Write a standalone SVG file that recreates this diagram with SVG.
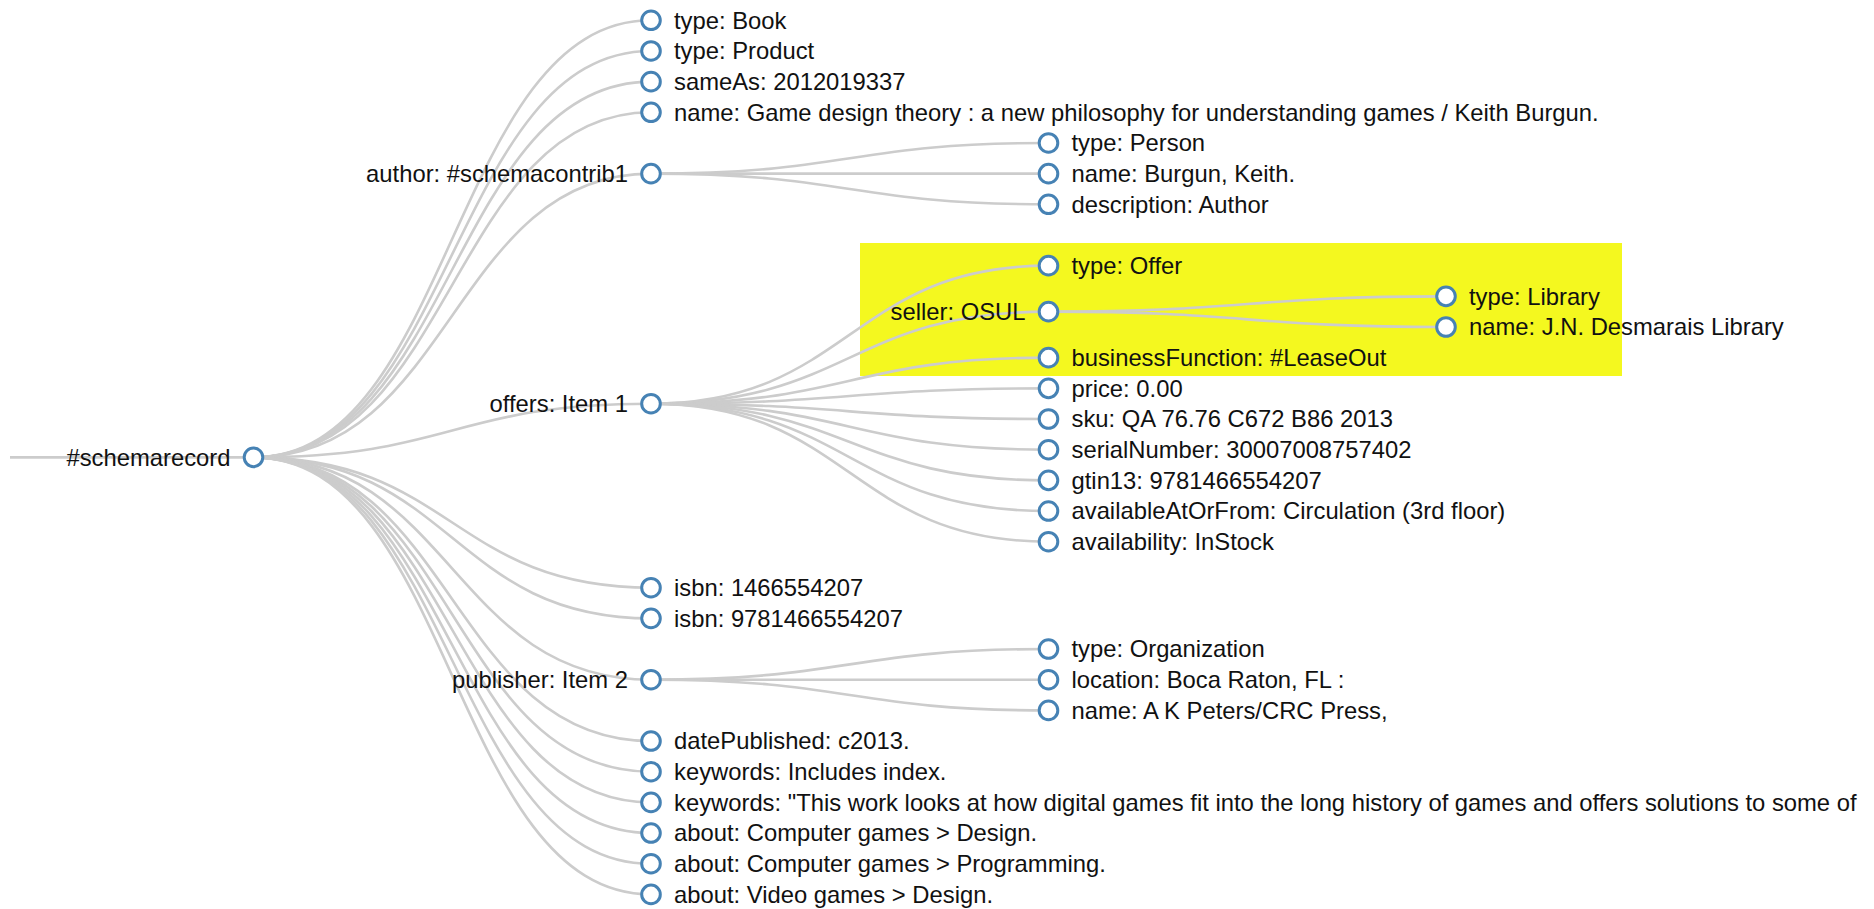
<svg xmlns="http://www.w3.org/2000/svg" width="1874" height="909" viewBox="0 0 1874 909">
<style>
.link{fill:none;stroke:#cccccc;stroke-width:2.6}
.node circle{fill:#ffffff;stroke:#4682b4;stroke-width:3}
.node text{font-family:"Liberation Sans",Arial,sans-serif;font-size:23.8px;fill:#111}
.l text{text-anchor:start}
.p text{text-anchor:end}
</style>
<rect id="highlight" x="860" y="243" width="762" height="133" fill="#f4f81f"/>
<g id="links">
<path class="link" d="M10,457.35 L253.5,457.35"/>
<path class="link" d="M253.5,457.35 C452.25,457.35 452.25,20.3 651,20.3"/>
<path class="link" d="M253.5,457.35 C452.25,457.35 452.25,50.97 651,50.97"/>
<path class="link" d="M253.5,457.35 C452.25,457.35 452.25,81.64 651,81.64"/>
<path class="link" d="M253.5,457.35 C452.25,457.35 452.25,112.31 651,112.31"/>
<path class="link" d="M253.5,457.35 C452.25,457.35 452.25,173.65 651,173.65"/>
<path class="link" d="M253.5,457.35 C452.25,457.35 452.25,403.68 651,403.68"/>
<path class="link" d="M253.5,457.35 C452.25,457.35 452.25,587.7 651,587.7"/>
<path class="link" d="M253.5,457.35 C452.25,457.35 452.25,618.37 651,618.37"/>
<path class="link" d="M253.5,457.35 C452.25,457.35 452.25,679.71 651,679.71"/>
<path class="link" d="M253.5,457.35 C452.25,457.35 452.25,741.05 651,741.05"/>
<path class="link" d="M253.5,457.35 C452.25,457.35 452.25,771.72 651,771.72"/>
<path class="link" d="M253.5,457.35 C452.25,457.35 452.25,802.39 651,802.39"/>
<path class="link" d="M253.5,457.35 C452.25,457.35 452.25,833.06 651,833.06"/>
<path class="link" d="M253.5,457.35 C452.25,457.35 452.25,863.73 651,863.73"/>
<path class="link" d="M253.5,457.35 C452.25,457.35 452.25,894.4 651,894.4"/>
<path class="link" d="M651,173.65 C849.75,173.65 849.75,142.98 1048.5,142.98"/>
<path class="link" d="M651,173.65 C849.75,173.65 849.75,173.65 1048.5,173.65"/>
<path class="link" d="M651,173.65 C849.75,173.65 849.75,204.32 1048.5,204.32"/>
<path class="link" d="M651,403.68 C849.75,403.68 849.75,265.66 1048.5,265.66"/>
<path class="link" d="M651,403.68 C849.75,403.68 849.75,311.67 1048.5,311.67"/>
<path class="link" d="M651,403.68 C849.75,403.68 849.75,357.67 1048.5,357.67"/>
<path class="link" d="M651,403.68 C849.75,403.68 849.75,388.34 1048.5,388.34"/>
<path class="link" d="M651,403.68 C849.75,403.68 849.75,419.01 1048.5,419.01"/>
<path class="link" d="M651,403.68 C849.75,403.68 849.75,449.68 1048.5,449.68"/>
<path class="link" d="M651,403.68 C849.75,403.68 849.75,480.35 1048.5,480.35"/>
<path class="link" d="M651,403.68 C849.75,403.68 849.75,511.02 1048.5,511.02"/>
<path class="link" d="M651,403.68 C849.75,403.68 849.75,541.69 1048.5,541.69"/>
<path class="link" d="M651,679.71 C849.75,679.71 849.75,649.04 1048.5,649.04"/>
<path class="link" d="M651,679.71 C849.75,679.71 849.75,679.71 1048.5,679.71"/>
<path class="link" d="M651,679.71 C849.75,679.71 849.75,710.38 1048.5,710.38"/>
<path class="link" d="M1048.5,311.67 C1247.25,311.67 1247.25,296.33 1446,296.33"/>
<path class="link" d="M1048.5,311.67 C1247.25,311.67 1247.25,327 1446,327"/>
</g>
<g id="n-root" class="node p"><circle cx="253.5" cy="457.35" r="9.3"/><text x="230.5" y="465.5">#schemarecord</text></g>
<g id="n-type-book" class="node l"><circle cx="651" cy="20.3" r="9.3"/><text x="674" y="28.5">type: Book</text></g>
<g id="n-type-product" class="node l"><circle cx="651" cy="50.97" r="9.3"/><text x="674" y="59.2">type: Product</text></g>
<g id="n-sameas" class="node l"><circle cx="651" cy="81.64" r="9.3"/><text x="674" y="89.9">sameAs: 2012019337</text></g>
<g id="n-name" class="node l"><circle cx="651" cy="112.31" r="9.3"/><text x="674" y="120.5">name: Game design theory : a new philosophy for understanding games / Keith Burgun.</text></g>
<g id="n-author" class="node p"><circle cx="651" cy="173.65" r="9.3"/><text x="628" y="181.9">author: #schemacontrib1</text></g>
<g id="n-offers" class="node p"><circle cx="651" cy="403.68" r="9.3"/><text x="628" y="411.9">offers: Item 1</text></g>
<g id="n-isbn1" class="node l"><circle cx="651" cy="587.7" r="9.3"/><text x="674" y="595.9">isbn: 1466554207</text></g>
<g id="n-isbn2" class="node l"><circle cx="651" cy="618.37" r="9.3"/><text x="674" y="626.6">isbn: 9781466554207</text></g>
<g id="n-publisher" class="node p"><circle cx="651" cy="679.71" r="9.3"/><text x="628" y="687.9">publisher: Item 2</text></g>
<g id="n-datepublished" class="node l"><circle cx="651" cy="741.05" r="9.3"/><text x="674" y="749.3">datePublished: c2013.</text></g>
<g id="n-keywords1" class="node l"><circle cx="651" cy="771.72" r="9.3"/><text x="674" y="779.9">keywords: Includes index.</text></g>
<g id="n-keywords2" class="node l"><circle cx="651" cy="802.39" r="9.3"/><text x="674" y="810.6">keywords: "This work looks at how digital games fit into the long history of games and offers solutions to some of</text></g>
<g id="n-about1" class="node l"><circle cx="651" cy="833.06" r="9.3"/><text x="674" y="841.3">about: Computer games &gt; Design.</text></g>
<g id="n-about2" class="node l"><circle cx="651" cy="863.73" r="9.3"/><text x="674" y="871.9">about: Computer games &gt; Programming.</text></g>
<g id="n-about3" class="node l"><circle cx="651" cy="894.4" r="9.3"/><text x="674" y="902.6">about: Video games &gt; Design.</text></g>
<g id="n-person-type" class="node l"><circle cx="1048.5" cy="142.98" r="9.3"/><text x="1071.5" y="151.2">type: Person</text></g>
<g id="n-person-name" class="node l"><circle cx="1048.5" cy="173.65" r="9.3"/><text x="1071.5" y="181.9">name: Burgun, Keith.</text></g>
<g id="n-person-desc" class="node l"><circle cx="1048.5" cy="204.32" r="9.3"/><text x="1071.5" y="212.5">description: Author</text></g>
<g id="n-offer-type" class="node l"><circle cx="1048.5" cy="265.66" r="9.3"/><text x="1071.5" y="273.9">type: Offer</text></g>
<g id="n-seller" class="node p"><circle cx="1048.5" cy="311.67" r="9.3"/><text x="1025.5" y="319.9">seller: OSUL</text></g>
<g id="n-business" class="node l"><circle cx="1048.5" cy="357.67" r="9.3"/><text x="1071.5" y="365.9">businessFunction: #LeaseOut</text></g>
<g id="n-price" class="node l"><circle cx="1048.5" cy="388.34" r="9.3"/><text x="1071.5" y="396.5">price: 0.00</text></g>
<g id="n-sku" class="node l"><circle cx="1048.5" cy="419.01" r="9.3"/><text x="1071.5" y="427.2">sku: QA 76.76 C672 B86 2013</text></g>
<g id="n-serial" class="node l"><circle cx="1048.5" cy="449.68" r="9.3"/><text x="1071.5" y="457.9">serialNumber: 30007008757402</text></g>
<g id="n-gtin" class="node l"><circle cx="1048.5" cy="480.35" r="9.3"/><text x="1071.5" y="488.6">gtin13: 9781466554207</text></g>
<g id="n-available-at" class="node l"><circle cx="1048.5" cy="511.02" r="9.3"/><text x="1071.5" y="519.2">availableAtOrFrom: Circulation (3rd floor)</text></g>
<g id="n-availability" class="node l"><circle cx="1048.5" cy="541.69" r="9.3"/><text x="1071.5" y="549.9">availability: InStock</text></g>
<g id="n-org-type" class="node l"><circle cx="1048.5" cy="649.04" r="9.3"/><text x="1071.5" y="657.2">type: Organization</text></g>
<g id="n-org-location" class="node l"><circle cx="1048.5" cy="679.71" r="9.3"/><text x="1071.5" y="687.9">location: Boca Raton, FL :</text></g>
<g id="n-org-name" class="node l"><circle cx="1048.5" cy="710.38" r="9.3"/><text x="1071.5" y="718.6">name: A K Peters/CRC Press,</text></g>
<g id="n-lib-type" class="node l"><circle cx="1446" cy="296.33" r="9.3"/><text x="1469" y="304.5">type: Library</text></g>
<g id="n-lib-name" class="node l"><circle cx="1446" cy="327" r="9.3"/><text x="1469" y="335.2">name: J.N. Desmarais Library</text></g>
</svg>
